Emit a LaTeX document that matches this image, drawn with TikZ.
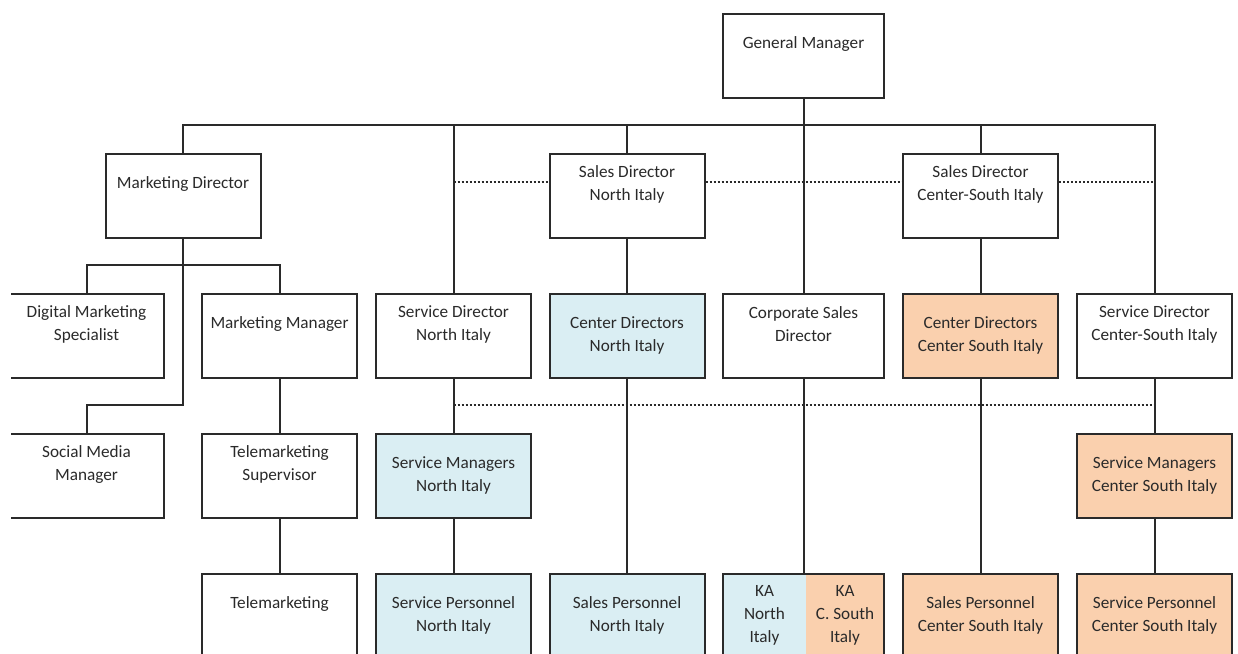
\documentclass[tikz,border=0pt]{standalone}
\usepackage{fontspec}
\setmainfont{Carlito}
\definecolor{paleblue}{HTML}{DAEEF3}
\definecolor{paleorange}{HTML}{FAD0AE}
\definecolor{ink}{HTML}{2A2A2A}

\begin{document}
\begin{tikzpicture}[x=1pt, y=-1pt,
	box/.style={draw=ink, line width=2pt, rectangle, anchor=north, minimum width=155pt, minimum height=84pt, inner sep=0pt},
	wide/.style={minimum width=161pt},
	northbox/.style={fill=paleblue},
	southbox/.style={fill=paleorange},
	lbl/.style={align=center, text=ink, inner sep=0pt, font=\fontsize{17.2}{23}\selectfont},
	link/.style={draw=ink, line width=2pt},
	dotline/.style={draw=ink, line width=2pt, dash pattern=on 2pt off 2pt}]

		\useasboundingbox (0,0) rectangle (1238,653);
		\fill[white] (0,0) rectangle (1238,653);
		\clip (11,0) rectangle (1238,653);

		% top
		\node[box, wide] (gm) at (803.5,13) {};
		\node[box] (mkd) at (183,153) {};
		\node[box] (sdn) at (627,153) {};
		\node[box] (sdc) at (980.5,153) {};

		% second row
		\node[box] (dms) at (86.5,293) {};
		\node[box] (mkm) at (279.5,293) {};
		\node[box] (svdn) at (453.5,293) {};
		\node[box, northbox] (cdn) at (627,293) {};
		\node[box, wide] (csd) at (803.5,293) {};
		\node[box, southbox] (cdc) at (980.5,293) {};
		\node[box] (svdc) at (1154.5,293) {};

		% third row
		\node[box] (smm) at (86.5,433) {};
		\node[box] (tms) at (279.5,433) {};
		\node[box, northbox] (svmn) at (453.5,433) {};
		\node[box, southbox] (svmc) at (1154.5,433) {};

		% bottom row
		\node[box] (tmk) at (279.5,573) {};
		\node[box, northbox] (svpn) at (453.5,573) {};
		\node[box, northbox] (spn) at (627,573) {};
		\node[box, northbox, draw=none, minimum width=83pt] (kaN) at (764.5,573) {};
		\node[box, southbox, draw=none, minimum width=78pt] (kaS) at (845,573) {};
		\node[box, wide] (ka) at (803.5,573) {};
		\node[box, southbox] (spc) at (980.5,573) {};
		\node[box, southbox] (svpc) at (1154.5,573) {};

		% texts
		\node[lbl] (gmT) at ([yshift=-31pt]gm.north) {General Manager};
		\node[lbl] (mkdT) at ([yshift=-31pt]mkd.north) {Marketing Director};
		\node[lbl] (sdnT) at ([yshift=-31pt]sdn.north) {Sales Director\\North Italy};
		\node[lbl] (sdcT) at ([yshift=-31pt]sdc.north) {Sales Director\\Center-South Italy};
		\node[lbl] (dmsT) at ([yshift=-31pt]dms.north) {Digital Marketing\\Specialist};
		\node[lbl] (mkmT) at ([yshift=-31pt]mkm.north) {Marketing Manager};
		\node[lbl] (svdnT) at ([yshift=-31pt]svdn.north) {Service Director\\North Italy};
		\node[lbl] (cdnT) at ([yshift=-42pt]cdn.north) {Center Directors\\North Italy};
		\node[lbl] (csdT) at ([yshift=-31pt]csd.north) {Corporate Sales\\Director};
		\node[lbl] (cdcT) at ([yshift=-42pt]cdc.north) {Center Directors\\Center South Italy};
		\node[lbl] (svdcT) at ([yshift=-31pt]svdc.north) {Service Director\\Center-South Italy};
		\node[lbl] (smmT) at ([yshift=-31pt]smm.north) {Social Media\\Manager};
		\node[lbl] (tmsT) at ([yshift=-31pt]tms.north) {Telemarketing\\Supervisor};
		\node[lbl] (svmnT) at ([yshift=-42pt]svmn.north) {Service Managers\\North Italy};
		\node[lbl] (svmcT) at ([yshift=-42pt]svmc.north) {Service Managers\\Center South Italy};
		\node[lbl] (tmkT) at ([yshift=-31pt]tmk.north) {Telemarketing};
		\node[lbl] (svpnT) at ([yshift=-42pt]svpn.north) {Service Personnel\\North Italy};
		\node[lbl] (spnT) at ([yshift=-42pt]spn.north) {Sales Personnel\\North Italy};
		\node[lbl] (kaNT) at ([yshift=-42pt]kaN.north) {KA\\North\\Italy};
		\node[lbl] (kaST) at ([yshift=-42pt]kaS.north) {KA\\C. South\\Italy};
		\node[lbl] (spcT) at ([yshift=-42pt]spc.north) {Sales Personnel\\Center South Italy};
		\node[lbl] (svpcT) at ([yshift=-42pt]svpc.north) {Service Personnel\\Center South Italy};

		% solid lines
		\coordinate (busL) at (183,125);
		\coordinate (busR) at (1154.5,125);
		\coordinate (mkSplit) at (183,265);
		\coordinate (mkTurn) at (183,405);
		\coordinate (dotRow) at (0,182);

		\draw[link] (mkd.north) -- (busL) -- (busR) -- (svdc.north);
		\draw[link] (gm.south) -- (csd.north);
		\draw[link] (svdn.north) -- (svdn.north |- busL);
		\draw[link] (sdn.north) -- (sdn.north |- busL);
		\draw[link] (sdc.north) -- (sdc.north |- busL);

		\draw[link] (mkd.south) -- (mkTurn) -| (smm.north);
		\draw[link] (dms.north) |- (mkSplit) -| (mkm.north);
		\draw[link] (mkm.south) -- (tms.north);
		\draw[link] (tms.south) -- (tmk.north);

		\draw[link] (svdn.south) -- (svmn.north);
		\draw[link] (svmn.south) -- (svpn.north);
		\draw[link] (sdn.south) -- (cdn.north);
		\draw[link] (cdn.south) -- (spn.north);
		\draw[link] (csd.south) -- (ka.north);
		\draw[link] (sdc.south) -- (cdc.north);
		\draw[link] (cdc.south) -- (spc.north);
		\draw[link] (svdc.south) -- (svmc.north);
		\draw[link] (svmc.south) -- (svpc.north);

		% dotted lines
		\draw[dotline] (svdn.north |- dotRow) -- (sdn.west |- dotRow)
			(sdn.east |- dotRow) -- (sdc.west |- dotRow)
			(sdc.east |- dotRow) -- (svdc.north |- dotRow);
		\draw[dotline] (svdn.south |- mkTurn) -- (svdc.south |- mkTurn);
	\end{tikzpicture}
\end{document}
